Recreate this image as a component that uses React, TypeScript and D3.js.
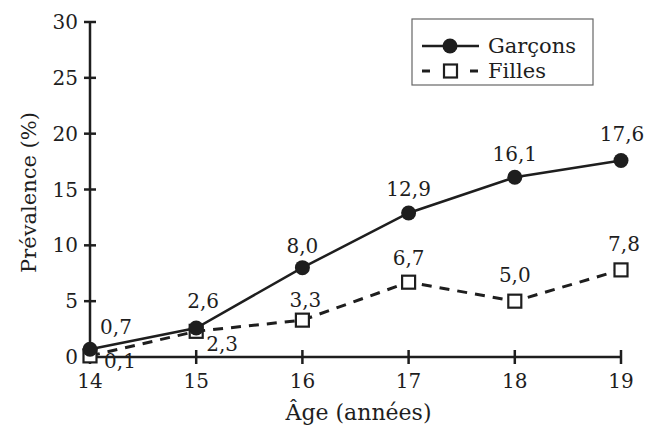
import * as d3 from "d3";

// ages on the x axis
const ages = [14, 15, 16, 17, 18, 19];
const garcons = [0.7, 2.6, 8.0, 12.9, 16.1, 17.6];
const filles = [0.1, 2.3, 3.3, 6.7, 5.0, 7.8];
const yTicks = [0, 5, 10, 15, 20, 25, 30];

// where each value label sits relative to its point (dx, dy of the baseline)
const garconsLabelOffset: [number, number][] = [
  [26, -15], [7, -20], [0, -15], [0, -17], [0, -16], [1, -19],
];
const fillesLabelOffset: [number, number][] = [
  [30, 12], [26, 20], [3, -13], [0, -17], [0, -19], [3, -19],
];

const W = 648;
const H = 428;
const margin = { top: 22, right: 27, bottom: 71, left: 90 };
const FONT = "'DejaVu Serif', serif";
const INK = "#1e1e1e";

const fr = d3.formatLocale({ decimal: ",", thousands: " ", grouping: [3], currency: ["", " €"] });
const fmt = fr.format(".1f");

export default function App() {
  const x = d3.scaleLinear().domain([14, 19]).range([margin.left, W - margin.right]);
  const y = d3.scaleLinear().domain([0, 30]).range([H - margin.bottom, margin.top]);

  const line = d3.line<number>()
    .x((_, i) => x(ages[i]))
    .y(d => y(d));

  const x0 = x(14);
  const y0 = y(0);

  return (
    <svg width={W} height={H} style={{ position: "fixed", left: 0, top: 0, background: "#fff" }}
      fontFamily={FONT} fontSize={20} fill={INK}>
      {/* axes */}
      <line x1={x0} x2={x0} y1={y(30)} y2={y0} stroke={INK} strokeWidth={2.5} />
      <line x1={x0} x2={x(19)} y1={y0} y2={y0} stroke={INK} strokeWidth={2.5} />
      {yTicks.map(t => (
        <g key={"y" + t}>
          <line x1={x0 - 6} x2={x0 + 6} y1={y(t)} y2={y(t)} stroke={INK} strokeWidth={2.5} />
          <text x={x0 - 12} y={y(t) + 7} textAnchor="end">{t}</text>
        </g>
      ))}
      {ages.map(a => (
        <g key={"x" + a}>
          <line x1={x(a)} x2={x(a)} y1={y0 - 7} y2={y0 + 7} stroke={INK} strokeWidth={2.5} />
          <text x={x(a)} y={y0 + 31} textAnchor="middle">{a}</text>
        </g>
      ))}
      <text x={(x0 + x(19)) / 2 + 3} y={H - 8} textAnchor="middle" fontSize={22}>Âge (années)</text>
      <text transform={`translate(36,${(y(30) + y0) / 2 + 3}) rotate(-90)`} textAnchor="middle" fontSize={21}>
        Prévalence (%)
      </text>

      {/* Filles */}
      <path d={line(filles) ?? ""} fill="none" stroke={INK} strokeWidth={3} strokeDasharray="10,8" />
      {filles.map((v, i) => (
        <rect key={"f" + i} x={x(ages[i]) - 6.5} y={y(v) - 6.5} width={13} height={13}
          fill="#fff" stroke={INK} strokeWidth={2.2} />
      ))}
      {filles.map((v, i) => (
        <text key={"fl" + i} x={x(ages[i]) + fillesLabelOffset[i][0]} y={y(v) + fillesLabelOffset[i][1]}
          textAnchor="middle">{fmt(v)}</text>
      ))}

      {/* Garçons */}
      <path d={line(garcons) ?? ""} fill="none" stroke={INK} strokeWidth={2.5} />
      {garcons.map((v, i) => (
        <circle key={"g" + i} cx={x(ages[i])} cy={y(v)} r={7.5} fill={INK} />
      ))}
      {garcons.map((v, i) => (
        <text key={"gl" + i} x={x(ages[i]) + garconsLabelOffset[i][0]} y={y(v) + garconsLabelOffset[i][1]}
          textAnchor="middle">{fmt(v)}</text>
      ))}

      {/* legend */}
      <g transform="translate(412,19)">
        <rect x={0} y={0} width={181} height={66} fill="#fff" stroke="#666" strokeWidth={1.2} />
        <line x1={10} x2={67} y1={27} y2={27} stroke={INK} strokeWidth={2.5} />
        <circle cx={38} cy={27} r={7.5} fill={INK} />
        <text x={76} y={34} fontSize={21}>Garçons</text>
        <line x1={10} x2={18} y1={52} y2={52} stroke={INK} strokeWidth={3} />
        <line x1={58} x2={66} y1={52} y2={52} stroke={INK} strokeWidth={3} />
        <rect x={32} y={45.5} width={13} height={13} fill="#fff" stroke={INK} strokeWidth={2.2} />
        <text x={76} y={59} fontSize={21}>Filles</text>
      </g>
    </svg>
  );
}
